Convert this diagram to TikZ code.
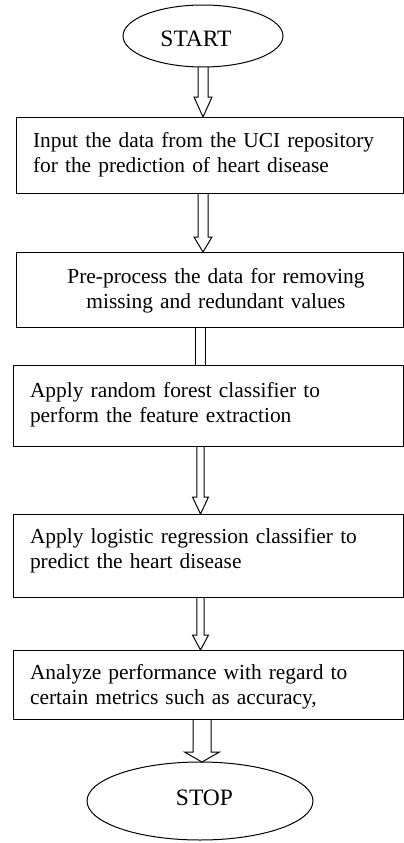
\documentclass[tikz,border=0pt]{standalone}
\usepackage{fontspec}
\setmainfont{Liberation Serif}
\usetikzlibrary{shapes.geometric,calc}
\newcommand\fatarrow[5]{%
  \draw[conn] ($(#1)+(-#3,0)$) -- ($(#2)+(-#3,-#5)$) -- ($(#2)+(-#4,-#5)$) -- (#2)
    -- ($(#2)+(#4,-#5)$) -- ($(#2)+(#3,-#5)$) -- ($(#1)+(#3,0)$);}
\begin{document}
\begin{tikzpicture}[x=1pt,y=-1pt,
  every node/.style={inner sep=0pt, outer sep=0pt},
  term/.style={draw, line width=1pt, ellipse},
  box/.style={draw, line width=1pt, rectangle, anchor=north west},
  txt/.style={font=\fontsize{21.4}{25.5}\selectfont, text width=375pt, align=left, anchor=base west},
  ttxt/.style={font=\fontsize{23.5}{28}\selectfont, anchor=base},
  conn/.style={line width=1pt, line join=miter}]
\useasboundingbox (0,0) rectangle (404,843);
% terminals
\node[term, minimum width=160pt, minimum height=62pt] (s) at (203,36) {};
\node[ttxt] (st) at (196,47) {START};
\node[term, minimum width=226pt, minimum height=78pt] (e) at (200,801) {};
\node[ttxt] (et) at (204.5,805) {STOP};
% boxes
\node[box, minimum width=387pt, minimum height=76pt] (b1) at (16,117) {};
\node[box, minimum width=387pt, minimum height=75pt] (b2) at (16,252) {};
\node[box, minimum width=390pt, minimum height=81pt] (b3) at (13,365) {};
\node[box, minimum width=390pt, minimum height=83pt] (b4) at (13,514) {};
\node[box, minimum width=390pt, minimum height=69pt] (b5) at (13,650) {};
% texts
\node[txt] (t1) at (33,147) {Input the data from the UCI repository\\for the prediction of heart disease};
\node[txt, align=center, anchor=base] (t2) at (216,283) {Pre-process the data for removing\\missing and redundant values};
\node[txt] (t3) at (30,397) {Apply random forest classifier to\\perform the feature extraction};
\node[txt] (t4) at (30,543) {Apply logistic regression classifier to\\predict the heart disease};
\node[txt] (t5) at (30,679) {Analyze performance with regard to\\certain metrics such as accuracy,};
% connectors
\coordinate (a1s) at (s.south);
\coordinate (a1e) at (a1s |- b1.north);
\fatarrow{a1s}{a1e}{5}{9}{20}
\coordinate (a2s) at (a1s |- b1.south);
\coordinate (a2e) at (a1s |- b2.north);
\fatarrow{a2s}{a2e}{5}{9}{15}
\coordinate (a3s) at (200,0 |- b2.south);
\coordinate (a3e) at (200,0 |- b3.north);
\draw[conn] ($(a3s)+(-5,0)$) -- ($(a3e)+(-5,0)$);
\draw[conn] ($(a3s)+(5,0)$) -- ($(a3e)+(5,0)$);
\coordinate (a4s) at (200.5,0 |- b3.south);
\coordinate (a4e) at (200.5,0 |- b4.north);
\fatarrow{a4s}{a4e}{3.7}{8}{17}
\coordinate (a5s) at (200.5,0 |- b4.south);
\coordinate (a5e) at (200.5,0 |- b5.north);
\fatarrow{a5s}{a5e}{3.7}{8}{15}
\coordinate (a6s) at (202,0 |- b5.south);
\coordinate (a6e) at (202,0 |- e.north);
\fatarrow{a6s}{a6e}{9}{17.5}{10}
\end{tikzpicture}
\end{document}
